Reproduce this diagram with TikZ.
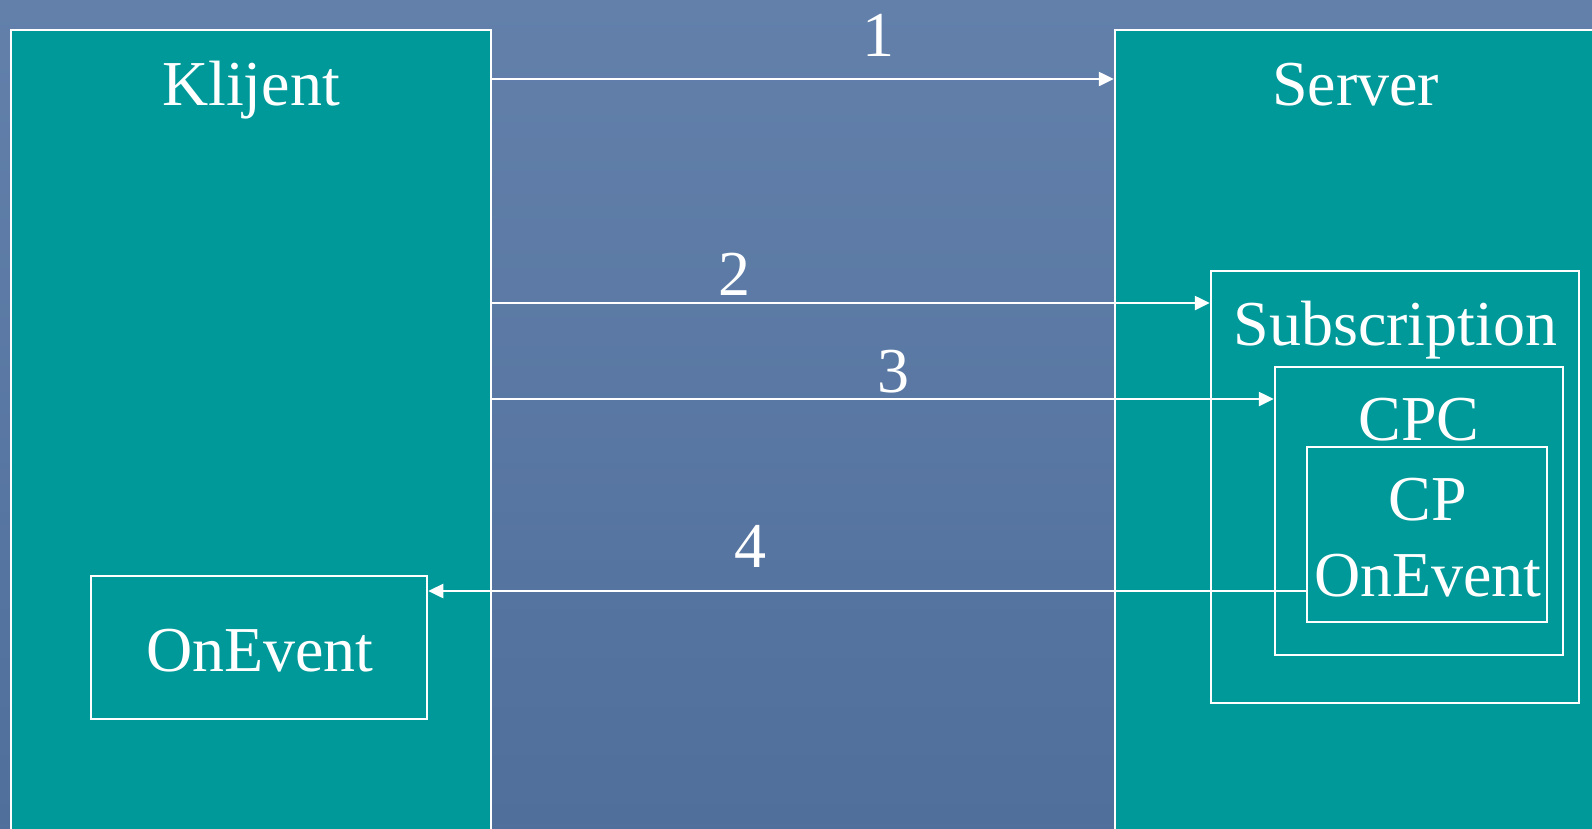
\documentclass[tikz,border=0pt]{standalone}
\usepackage{fontspec}
\setmainfont{Liberation Serif}
\usetikzlibrary{arrows.meta}
\definecolor{boxteal}{RGB}{0,153,153}
\definecolor{bgtop}{RGB}{98,128,170}
\definecolor{bgbot}{RGB}{80,111,155}
\begin{document}
\begin{tikzpicture}[x=1pt, y=-1pt,
        box/.style={draw=white, fill=boxteal, line width=2.5pt, inner sep=0pt},
        txt/.style={text=white, inner sep=0pt, anchor=base, font=\fontsize{64}{70}\selectfont},
        arr/.style={draw=white, line width=2.5pt, -{Triangle[length=15pt, width=14pt]}}]
    % Background
    \useasboundingbox (0,0) rectangle (1592,828);
    \clip (0,0) rectangle (1592,828);
    \shade[top color=bgtop, bottom color=bgbot] (0,0) rectangle (1592,828);

    % Boxes
    \node[box, minimum width=480pt, minimum height=820pt] (klijent) at (251,440) {};
    \node[box, minimum width=535pt, minimum height=820pt] (server) at (1382.5,440) {};
    \node[box, minimum width=368pt, minimum height=432pt] (subscr) at (1395,487) {};
    \node[box, minimum width=288pt, minimum height=288pt] (cpc) at (1419,511) {};
    \node[box, minimum width=240pt, minimum height=175pt] (cp) at (1427,534.5) {};
    \node[box, minimum width=336pt, minimum height=143pt] (onevent) at (259,647.5) {};

    % Texts
    \node[txt] (klijenttxt) at (251,105) {Klijent};
    \node[txt] (servertxt) at (1355.5,105) {Server};
    \node[txt] (subscrtxt) at (1395.5,345) {Subscription};
    \node[txt] (cpctxt) at (1419,440) {CPC};
    \node[txt] (cptxt) at (1427.5,520) {CP};
    \node[txt] (cpeventtxt) at (1428,596) {OnEvent};
    \node[txt] (oneventtxt) at (260,671) {OnEvent};

    % Connections
    \coordinate (y1) at (0,79);
    \coordinate (y2) at (0,303);
    \coordinate (y3) at (0,399);
    \coordinate (y4) at (0,591);
    \draw[arr] (klijent.east |- y1) -- (server.west |- y1);
    \draw[arr] (klijent.east |- y2) -- (subscr.west |- y2);
    \draw[arr] (klijent.east |- y3) -- (cpc.west |- y3);
    \draw[arr] (cp.west |- y4) -- (onevent.east |- y4);

    % Numbers
    \node[txt] (n1) at (878,56) {1};
    \node[txt] (n2) at (734.5,295) {2};
    \node[txt] (n3) at (893,392) {3};
    \node[txt] (n4) at (750,567) {4};
\end{tikzpicture}
\end{document}
